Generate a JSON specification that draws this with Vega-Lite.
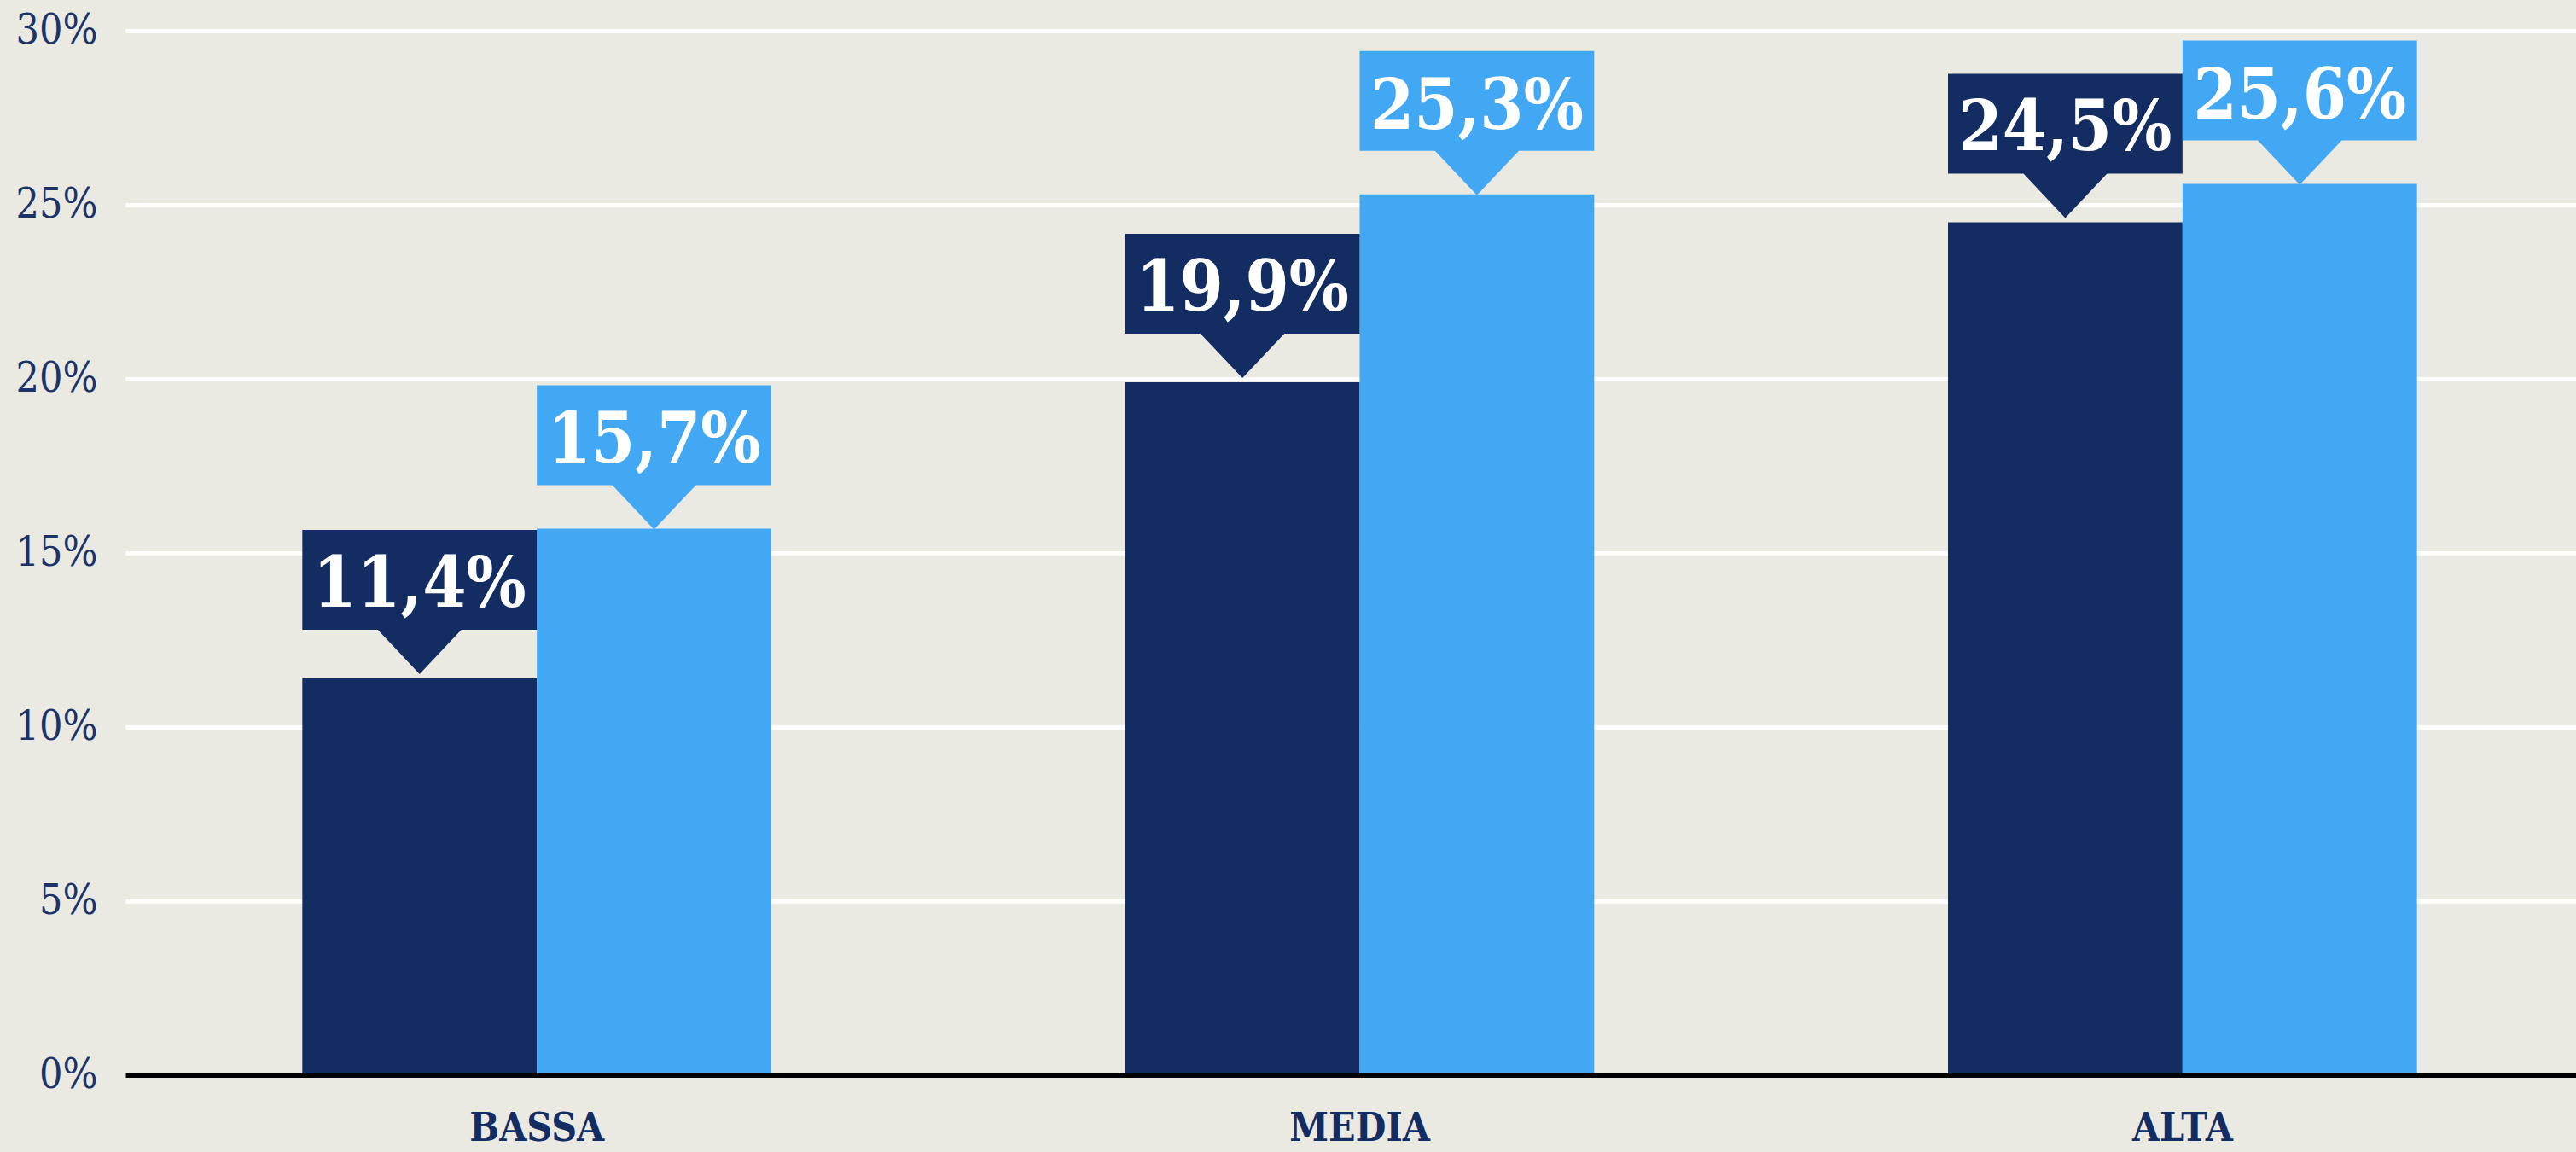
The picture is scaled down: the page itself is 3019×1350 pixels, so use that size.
{
  "$schema": "https://vega.github.io/schema/vega-lite/v6.json",
  "width": 2872,
  "height": 1224,
  "autosize": "none",
  "padding": {"left": 147, "top": 36, "right": 0, "bottom": 90},
  "background": "#EAE9E2",
  "config": {"view": {"stroke": null}},
  "data": {
    "values": [
      {"fascia": "BASSA", "serie": "Serie 1", "valore": 11.4, "etichetta": "11,4%"},
      {"fascia": "BASSA", "serie": "Serie 2", "valore": 15.7, "etichetta": "15,7%"},
      {"fascia": "MEDIA", "serie": "Serie 1", "valore": 19.9, "etichetta": "19,9%"},
      {"fascia": "MEDIA", "serie": "Serie 2", "valore": 25.3, "etichetta": "25,3%"},
      {"fascia": "ALTA", "serie": "Serie 1", "valore": 24.5, "etichetta": "24,5%"},
      {"fascia": "ALTA", "serie": "Serie 2", "valore": 25.6, "etichetta": "25,6%"}
    ]
  },
  "encoding": {
    "x": {
      "field": "fascia",
      "type": "nominal",
      "sort": ["BASSA", "MEDIA", "ALTA"],
      "scale": {"range": [0, 2893], "paddingInner": 0.43, "paddingOuter": 0.215},
      "axis": {
        "title": null,
        "domain": true,
        "domainColor": "#000000",
        "domainWidth": 5,
        "ticks": false,
        "grid": false,
        "labelAngle": 0,
        "labelFont": "DejaVu Serif Condensed",
        "labelFontWeight": "bold",
        "labelFontSize": 46,
        "labelColor": "#132D63",
        "labelPadding": 40,
        "zindex": 1
      }
    },
    "xOffset": {
      "field": "serie",
      "type": "nominal",
      "scale": {"paddingInner": 0, "paddingOuter": 0}
    },
    "y": {
      "field": "valore",
      "type": "quantitative",
      "scale": {"domain": [0, 30], "nice": false},
      "axis": {
        "title": null,
        "values": [0, 5, 10, 15, 20, 25, 30],
        "labelExpr": "datum.value + '%'",
        "domain": false,
        "ticks": false,
        "grid": true,
        "gridColor": "#FFFFFF",
        "gridWidth": 5,
        "labelFont": "DejaVu Serif Condensed",
        "labelFontSize": 48,
        "labelColor": "#1B3366",
        "labelPadding": 33,
        "zindex": 0
      }
    },
    "color": {
      "field": "serie",
      "type": "nominal",
      "scale": {"domain": ["Serie 1", "Serie 2"], "range": ["#132D63", "#42A8F4"]},
      "legend": null
    }
  },
  "layer": [
    {"mark": {"type": "bar"}},
    {
      "transform": [{"filter": "datum.serie === 'Serie 1'"}],
      "mark": {"type": "bar", "yOffset": -174, "y2Offset": -57},
      "encoding": {"y2": {"field": "valore"}}
    },
    {
      "transform": [{"filter": "datum.serie === 'Serie 2'"}],
      "mark": {"type": "bar", "yOffset": -168, "y2Offset": -51},
      "encoding": {"y2": {"field": "valore"}}
    },
    {
      "transform": [{"filter": "datum.serie === 'Serie 1'"}],
      "mark": {"type": "point", "shape": "M-1,-0.56L1,-0.56L0,0.5Z", "size": 10816, "filled": true, "opacity": 1, "strokeWidth": 0, "yOffset": -31}
    },
    {
      "transform": [{"filter": "datum.serie === 'Serie 2'"}],
      "mark": {"type": "point", "shape": "M-1,-0.56L1,-0.56L0,0.5Z", "size": 10816, "filled": true, "opacity": 1, "strokeWidth": 0, "yOffset": -25}
    },
    {
      "transform": [{"filter": "datum.serie === 'Serie 1'"}],
      "mark": {"type": "text", "font": "DejaVu Serif Condensed", "fontWeight": "bold", "fontSize": 82, "color": "#FFFFFF", "baseline": "alphabetic", "align": "center", "yOffset": -84},
      "encoding": {"text": {"field": "etichetta"}, "color": {"value": "#FFFFFF"}}
    },
    {
      "transform": [{"filter": "datum.serie === 'Serie 2'"}],
      "mark": {"type": "text", "font": "DejaVu Serif Condensed", "fontWeight": "bold", "fontSize": 82, "color": "#FFFFFF", "baseline": "alphabetic", "align": "center", "yOffset": -77},
      "encoding": {"text": {"field": "etichetta"}, "color": {"value": "#FFFFFF"}}
    }
  ]
}
